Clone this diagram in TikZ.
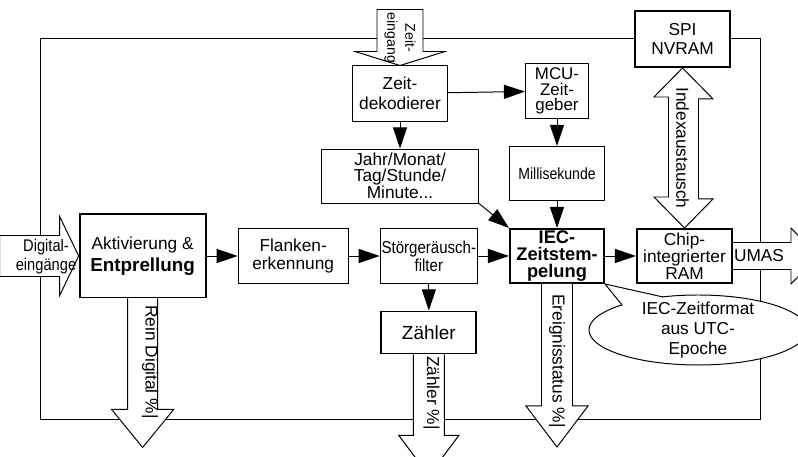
\documentclass[tikz,border=0pt]{standalone}
\usepackage{fontspec}
\setmainfont{Liberation Sans}
\newfontfamily\narrowfont[FakeStretch=0.87]{Liberation Sans}
\usetikzlibrary{arrows.meta,positioning}
\newcommand{\fsz}[2]{\fontsize{#1}{#2}\selectfont}
\tikzset{
  box/.style={draw=black,line width=0.7pt,fill=white,align=center,inner sep=1pt,font=\fsz{12.3}{14}},
  hi/.style={line width=1.4pt},
  arr/.style={-{Triangle[length=15pt,width=10pt]},line width=0.7pt,draw=black},
  fat/.style={draw=black,line width=0.7pt,fill=white},
  lbl/.style={inner sep=0pt,align=center,font=\fsz{12.3}{14}},
}
\begin{document}
\begin{tikzpicture}[x=0.025cm,y=-0.025cm,node distance=6.75mm and 7.75mm]
 \useasboundingbox (0,0) rectangle (798,457);
 \draw[line width=0.7pt] (40,38) rectangle (760,419);
 \node[box,hi,minimum width=2.35cm,minimum height=1.35cm,inner sep=0pt,font=\bfseries\fsz{13}{12.2}] (iec) at (557,256) {IEC-\\Zeitstem-\\pelung};
 \node[box,minimum width=2.375cm,minimum height=1.35cm,font=\narrowfont\fsz{12.3}{13},left=of iec] (stoer) {Störgeräusch-\\filter};
 \node[box,minimum width=2.75cm,minimum height=1.35cm,font=\fsz{12.3}{13.2},left=of stoer] (flank) {Flanken-\\erkennung};
 \node[box,hi,minimum width=3.15cm,minimum height=2.075cm,font=\fsz{12.3}{15.4},left=of flank] (akt) {Aktivierung \&\\{\bfseries\fsz{13.4}{15.4}Entprellung}};
 \node[box,hi,minimum width=2.375cm,minimum height=1.35cm,font=\fsz{12.3}{11},right=of iec] (chip) {Chip-\\integrierter\\RAM};
 \node[box,hi,minimum width=2.375cm,minimum height=1.05cm,font=\fsz{13.5}{15},below=of stoer] (zaehler) {Zähler};
 \node[box,minimum width=2.35cm,minimum height=1.35cm,font=\narrowfont\fsz{11.5}{13},above=of iec] (milli) {Millisekunde};
 \node[box,minimum width=1.575cm,minimum height=1.375cm,font=\fsz{12}{11},above=of milli] (mcu) {MCU-\\Zeit-\\geber};
 \node[box,minimum width=2.35cm,minimum height=1.375cm,font=\fsz{12.3}{14}] (dek) at (400,93.5) {Zeit-\\dekodierer};
 \node[box,minimum width=3.925cm,minimum height=1.35cm,font=\fsz{12.3}{11.1},below=of dek] (jahr) {Jahr/Monat/\\Tag/Stunde/\\Minute...};
 \node[box,hi,minimum width=2.375cm,minimum height=1.4cm,font=\fsz{12.3}{13.7}] (spi) at (682.5,39) {SPI\\NVRAM};
 \draw[arr] (dek) -- (mcu);
 \draw[arr] (dek) -- (jahr);
 \draw[arr] (mcu) -- (milli);
 \draw[arr] (milli) -- (iec);
 \draw[arr] (jahr.south east) -- (iec.north west);
 \draw[arr] (akt) -- (flank);
 \draw[arr] (flank) -- (stoer);
 \draw[arr] (stoer) -- (iec);
 \draw[arr] (iec) -- (chip);
 \draw[arr] (stoer) -- (zaehler);
 \draw[fat] (dek.north) -- ++(-45,-14) -- ++(22,0) -- ++(0,-42) -- ++(46,0) -- ++(0,42) -- ++(22,0) -- cycle;
 \node[lbl,rotate=-90,font=\fsz{10}{12.8}] (zin) at (400,38) {Zeit-\\eingang};
 \draw[fat] (akt.west) -- ++(-19,-39.5) -- ++(0,19) -- ++(-60,0) -- ++(0,41) -- ++(60,0) -- ++(0,19) -- cycle;
 \node[lbl,font=\narrowfont\fsz{12}{13.7}] (din) at (46,257) {Digital-\\eingänge};
 \draw[fat] (akt.south) ++(-15,0) -- ++(0,111) -- ++(-16,0) -- ++(31,38) -- ++(31,-38) -- ++(-16,0) -- ++(0,-111);
 \node[lbl,rotate=-90] (rein) at (150,362) {Rein Digital \%|};
 \draw[fat] (zaehler.south) ++(-15.5,0) -- ++(0,81) -- ++(-14.5,0) -- ++(30,40) -- ++(30,-40) -- ++(-14.5,0) -- ++(0,-81);
 \node[lbl,rotate=-90] (zcnt) at (431.5,393) {Zähler \%|};
 \draw[fat] (iec.south) ++(-15.5,0) -- ++(0,122) -- ++(-15.5,0) -- ++(31,41) -- ++(31,-41) -- ++(-15.5,0) -- ++(0,-122);
 \node[lbl,rotate=-90] (evt) at (557,361) {Ereignisstatus \%|};
 \draw[fat] (spi.south) -- ++(30.5,31) -- ++(-14.5,0) -- ++(0,100) -- ++(14.5,0) -- (chip.north) -- ++(-30.5,-31) -- ++(14.5,0) -- ++(0,-100) -- ++(-14.5,0) -- cycle;
 \node[lbl,rotate=-90] (idx) at (682.5,148) {Indexaustausch};
 \draw[fat] (chip.east) ++(0,-13.5) -- ++(58,0) -- ++(0,-14.5) -- ++(27,28) -- ++(-27,28) -- ++(0,-14.5) -- ++(-58,0);
 \node[lbl] (umas) at (759,256) {UMAS};
 \coordinate (utcc) at (698,330);
 \draw[fat] (utcc) ellipse [x radius=109,y radius=35];
 \fill[white] (iec.south east) -- (622,305) -- (645,310) -- (663,297) -- cycle;
 \draw[line width=0.7pt] (622,305) -- (iec.south east) -- (663,297);
 \node[lbl] (utc) at (utcc) {IEC-Zeitformat\\aus UTC-\\Epoche};
\end{tikzpicture}
\end{document}
